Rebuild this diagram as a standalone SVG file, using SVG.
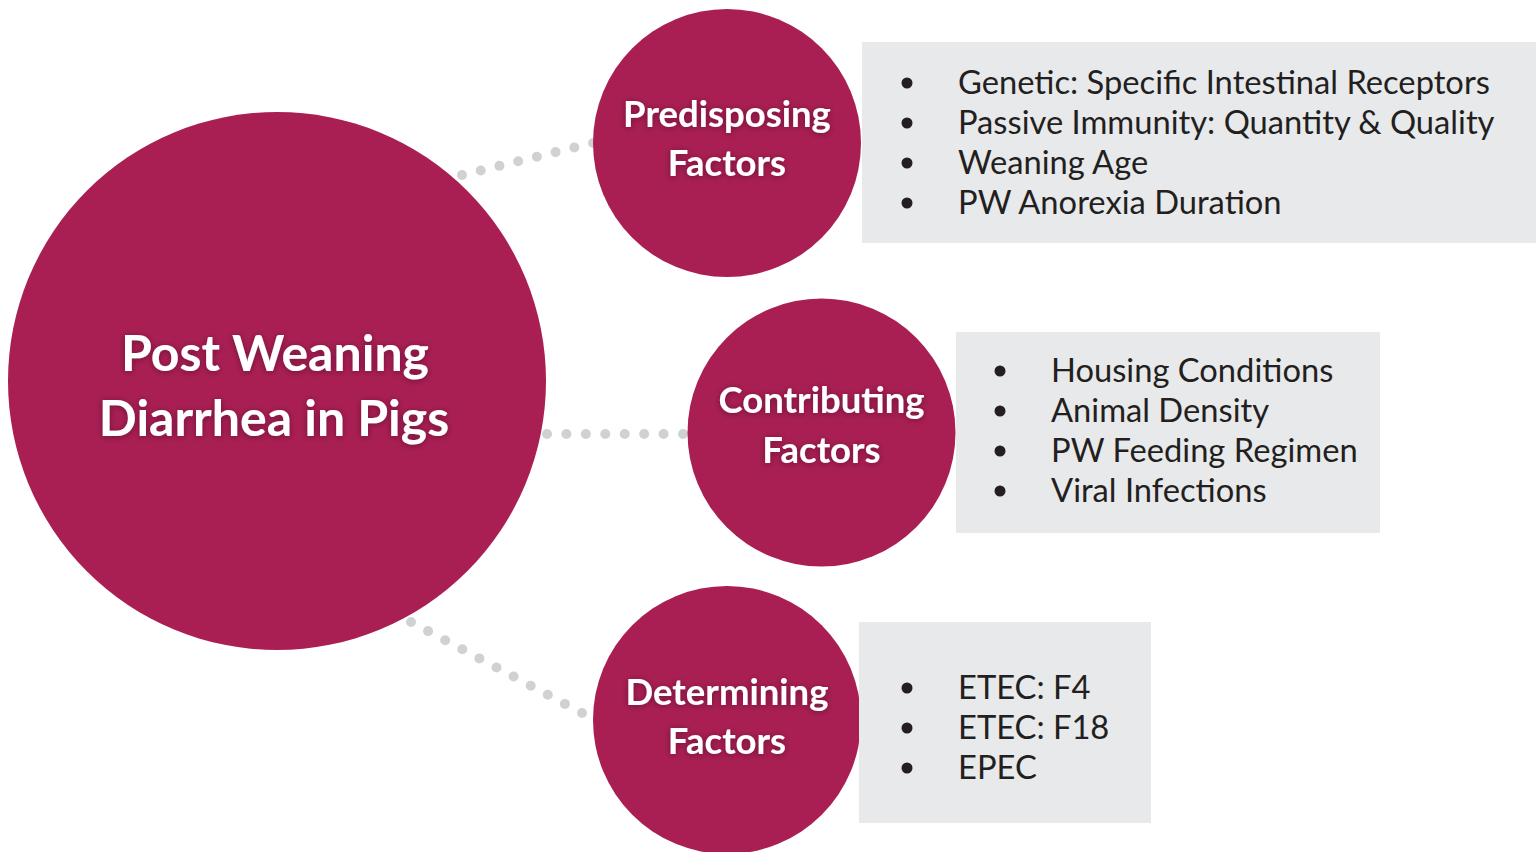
<svg xmlns="http://www.w3.org/2000/svg" width="1536" height="852" viewBox="0 0 1536 852">
<defs>
<style>
.circ{fill:#A91F54}
.ttl{font-family:Lato,"Liberation Sans",sans-serif;font-weight:bold;fill:#fff;text-anchor:middle}
.box{fill:#E8E9EB}
.li{font-family:Lato,"Liberation Sans",sans-serif;font-size:32.7px;fill:#231F20}
.bul{fill:#231F20}
.dot{fill:none;stroke:#D0D1D3;stroke-width:10;stroke-linecap:round}
</style>
<filter id="glow" x="-20%" y="-40%" width="140%" height="180%">
<feDropShadow dx="0" dy="1" stdDeviation="3" flood-color="#3a0a1c" flood-opacity="0.55"/>
</filter>
</defs>
<rect width="1536" height="852" fill="#fff"/>
<g id="connectors">
<line class="dot" stroke-dasharray="0 19.27" x1="462" y1="175" x2="594" y2="142.7"/>
<line class="dot" stroke-dasharray="0 19.43" x1="547" y1="434" x2="684" y2="434"/>
<line class="dot" stroke-dasharray="0 19.37" x1="411" y1="622" x2="583" y2="713.5"/>
</g>
<g id="main">
<circle class="circ" cx="277" cy="381" r="269"/>
<g filter="url(#glow)">
<text class="ttl" x="275" y="371" font-size="50">Post Weaning</text>
<text class="ttl" x="274" y="436" font-size="50">Diarrhea in Pigs</text>
</g>
</g>
<g id="predisposing">
<circle class="circ" cx="727" cy="143" r="134"/>
<g filter="url(#glow)">
<text class="ttl" x="727" y="127" font-size="36.5">Predisposing</text>
<text class="ttl" x="727" y="176" font-size="36.5">Factors</text>
</g>
</g>
<g id="contributing">
<circle class="circ" cx="821.5" cy="432.5" r="134"/>
<g filter="url(#glow)">
<text class="ttl" x="821.5" y="413" font-size="36.5">Contributing</text>
<text class="ttl" x="821.5" y="463" font-size="36.5">Factors</text>
</g>
</g>
<g id="determining">
<circle class="circ" cx="727" cy="720" r="134"/>
<g filter="url(#glow)">
<text class="ttl" x="727" y="705" font-size="36.5">Determining</text>
<text class="ttl" x="727" y="754" font-size="36.5">Factors</text>
</g>
</g>
<g id="predisposing-list">
<rect class="box" x="862" y="42" width="674" height="201"/>
<circle class="bul" cx="907" cy="83" r="5.5"/>
<circle class="bul" cx="907" cy="123" r="5.5"/>
<circle class="bul" cx="907" cy="163" r="5.5"/>
<circle class="bul" cx="907" cy="203" r="5.5"/>
<text class="li" x="958" y="94">Genetic: Specific Intestinal Receptors</text>
<text class="li" x="958" y="134">Passive Immunity: Quantity &amp; Quality</text>
<text class="li" x="958" y="174">Weaning Age</text>
<text class="li" x="958" y="214">PW Anorexia Duration</text>
</g>
<g id="contributing-list">
<rect class="box" x="956" y="332" width="424" height="201"/>
<circle class="bul" cx="1000" cy="371" r="5.5"/>
<circle class="bul" cx="1000" cy="411" r="5.5"/>
<circle class="bul" cx="1000" cy="451" r="5.5"/>
<circle class="bul" cx="1000" cy="491" r="5.5"/>
<text class="li" x="1051" y="382">Housing Conditions</text>
<text class="li" x="1051" y="422">Animal Density</text>
<text class="li" x="1051" y="462">PW Feeding Regimen</text>
<text class="li" x="1051" y="502">Viral Infections</text>
</g>
<g id="determining-list">
<rect class="box" x="859" y="622" width="292" height="201"/>
<circle class="bul" cx="907" cy="688" r="5.5"/>
<circle class="bul" cx="907" cy="728" r="5.5"/>
<circle class="bul" cx="907" cy="768" r="5.5"/>
<text class="li" x="958" y="699">ETEC: F4</text>
<text class="li" x="958" y="739">ETEC: F18</text>
<text class="li" x="958" y="779">EPEC</text>
</g>
</svg>
